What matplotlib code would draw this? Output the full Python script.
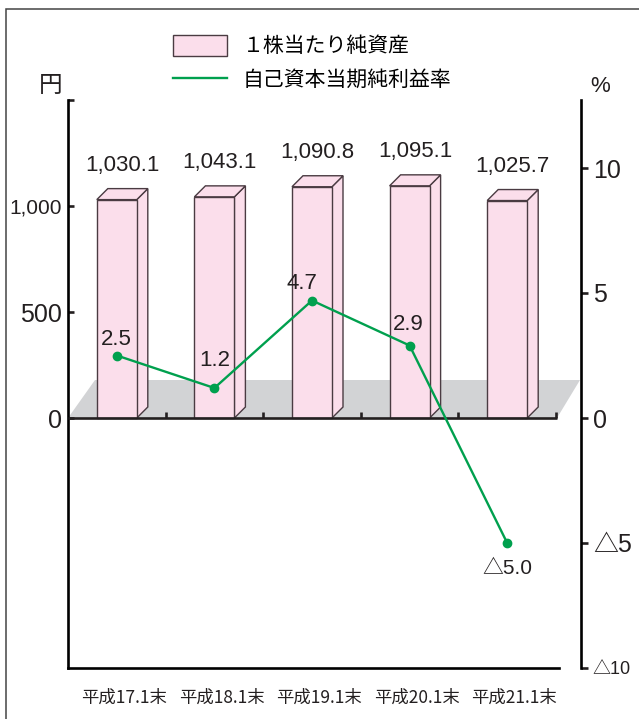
import matplotlib
matplotlib.use("Agg")
import matplotlib.pyplot as plt
from matplotlib.patches import Polygon, Rectangle
from matplotlib.transforms import ScaledTranslation

plt.rcParams['font.family'] = ['Liberation Sans', 'Noto Sans CJK JP', 'DejaVu Sans']

# data
categories = ['平成17.1末', '平成18.1末', '平成19.1末', '平成20.1末', '平成21.1末']
net_assets = [1030.1, 1043.1, 1090.8, 1095.1, 1025.7]      # 円
roe = [2.5, 1.2, 4.7, 2.9, -5.0]                          # %
left_ticks = [0, 500, 1000, 1500]
left_ticklabels = ['0', '500', '1,000', '']
right_ticks = [-10, -5, 0, 5, 10]
right_ticklabels = ['△10', '△5', '0', '5', '10']
bar_label = '１株当たり純資産'
line_label = '自己資本当期純利益率'

# offsets (pixels) of the roe labels from their points
roe_label_offsets = [(0, 16), (0, 27), (-10, 17), (-1, 21), (0, -25)]

PINK = '#fbdeeb'
EDGE = '#4a3b42'
FLOOR = '#d2d3d5'
GREEN = '#00a04e'
INK = '#231f20'

W, H = 639, 719
fig = plt.figure(figsize=(W / 100, H / 100), dpi=100)

# outer frame
fig.patches.append(Rectangle((6 / W, -0.2), 2, (H - 9) / H + 0.2, transform=fig.transFigure,
                             fill=False, lw=1.1, ec='#444444'))

ax = fig.add_axes([68 / W, 51 / H, 513 / W, 568 / H])
ax2 = ax.twinx()

slot = 97.6               # px per category
ypx = 0.212               # px per yen
ax.set_xlim(-0.5, -0.5 + 513 / slot)
ax.set_ylim(-250 / ypx, 318 / ypx)
ax2.set_ylim(-10, 12.72)

x = list(range(len(categories)))
bw = 40 / slot
ddx, ddy = 11 / slot, 11 / ypx

# grey floor
fl, fr, fh = -0.5, -0.5 + 489 / slot, 38 / ypx
ax.add_patch(Polygon([(fl, 0), (fr, 0), (fr + 23 / slot, fh), (fl + 27 / slot, fh)],
                     closed=True, fc=FLOOR, ec='none', zorder=1))

# bars with side and top faces
bars = ax.bar(x, net_assets, width=bw, color=PINK, edgecolor=EDGE, linewidth=1.0,
              zorder=3, label=bar_label)
for xi, v in zip(x, net_assets):
    xl, xr = xi - bw / 2, xi + bw / 2
    ax.add_patch(Polygon([(xr, 0), (xr, v), (xr + ddx, v + ddy), (xr + ddx, ddy)],
                         closed=True, fc=PINK, ec=EDGE, lw=1.0, zorder=2.9))
    ax.add_patch(Polygon([(xl, v), (xr, v), (xr + ddx, v + ddy), (xl + ddx, v + ddy)],
                         closed=True, fc=PINK, ec=EDGE, lw=1.0, zorder=2.9))
    ax.annotate(f'{v:,.1f}', (xi, v), xytext=(5.5, 34), textcoords='offset pixels',
                ha='center', va='center', fontsize=16, color=INK, zorder=5)

# zero line with small category ticks
ax.plot([fl, fr], [0, 0], color=INK, lw=1.9, zorder=4, solid_capstyle='butt')
ax.vlines([i + 0.5 for i in x], 0, 6 / ypx, color=INK, lw=1.9, zorder=4)

# spines
for s in ['top', 'right']:
    ax.spines[s].set_visible(False)
ax.spines['left'].set_linewidth(1.9)
ax.spines['bottom'].set_linewidth(1.9)
ax.spines['bottom'].set_bounds(-0.5, -0.5 + 491 / slot)
for s in ['top', 'left', 'bottom']:
    ax2.spines[s].set_visible(False)
ax2.spines['right'].set_linewidth(1.9)

ax.set_yticks(left_ticks)
ax.set_yticklabels(left_ticklabels)
ax.tick_params(axis='y', direction='in', length=4.5, width=1.9, pad=4.5,
               labelsize=18, colors=INK)
ax.get_yticklabels()[2].set_fontsize(15)

ax.set_xticks(x)
ax.set_xticklabels(categories)
ax.tick_params(axis='x', length=0, pad=15, labelsize=12.5, colors=INK)
shift = ScaledTranslation(7 / 100, 0, fig.dpi_scale_trans)
for lab in ax.get_xticklabels():
    lab.set_fontfamily(['Noto Sans CJK JP', 'DejaVu Sans'])
    lab.set_transform(lab.get_transform() + shift)

ax2.set_yticks(right_ticks)
ax2.set_yticklabels(right_ticklabels)
ax2.tick_params(axis='y', direction='out', length=5, width=1.9, pad=3.5,
                labelsize=18, colors=INK)
ax2.get_yticklabels()[0].set_fontsize(13)

# ROE line
line, = ax2.plot(x, roe, color=GREEN, lw=1.7, zorder=6, label=line_label)
ax2.plot(x, roe, 'o', color=GREEN, markersize=6, zorder=7)
for xi, r, (ox, oy) in zip(x, roe, roe_label_offsets):
    txt = f'{r:.1f}' if r >= 0 else f'△{abs(r):.1f}'
    ax2.annotate(txt, (xi, r), xytext=(ox, oy), textcoords='offset pixels',
                 ha='center', va='center', fontsize=16 if r >= 0 else 15, color=INK, zorder=8)

# units
fig.text(51 / W, 1 - 85 / H, '円', ha='center', va='center', fontsize=17, color=INK,
         family=['Noto Sans CJK JP'])
fig.text(600 / W, 1 - 86 / H, '%', ha='center', va='center', fontsize=16, color=INK)

# legend
fig.legend(handles=[bars, line], loc='upper left', bbox_to_anchor=(173 / W, 1 - 35 / H),
           frameon=False, borderpad=0, borderaxespad=0, handlelength=2.6, handleheight=1.15,
           handletextpad=0.75, labelspacing=0.55,
           prop={'family': ['Noto Sans CJK JP'], 'size': 15})

plt.savefig('out.png', dpi=100)
